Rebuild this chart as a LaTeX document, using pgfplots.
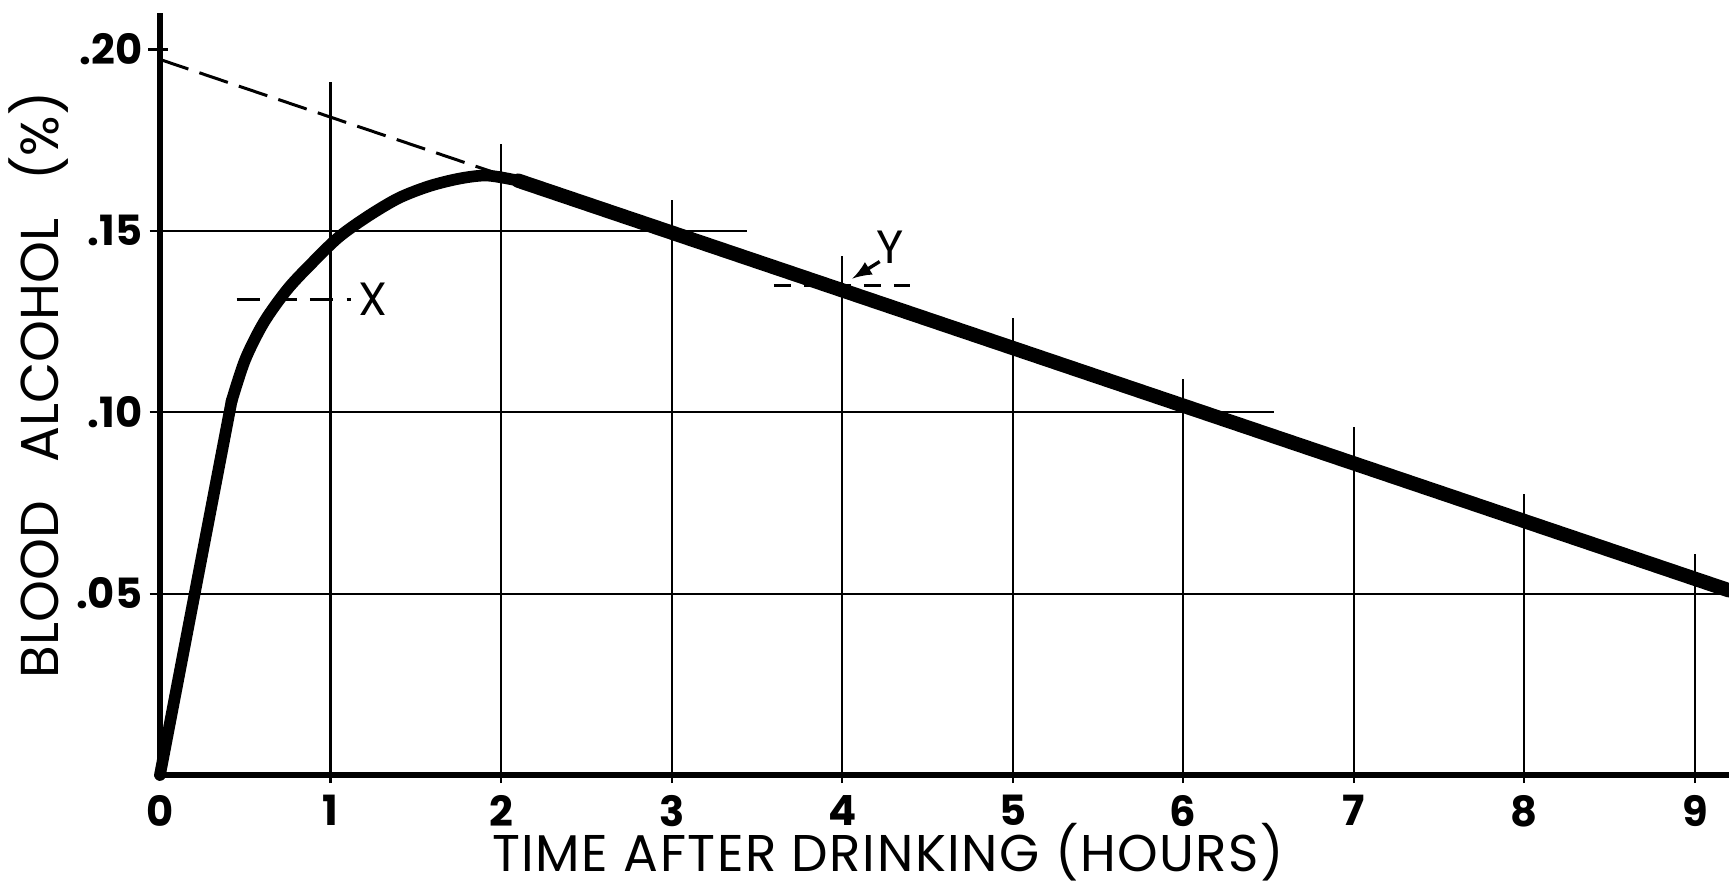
\documentclass[border=0pt]{standalone}
\usepackage{fontspec}
\setmainfont{Poppins}
\usepackage{pgfplots}
\pgfplotsset{compat=1.18}
\usetikzlibrary{calc}
\begin{document}
\begin{tikzpicture}
\begin{axis}[
  scale only axis, width=470.9pt, height=228.7pt,
  xmin=0, xmax=9.2, ymin=0, ymax=0.21,
  clip=false,
  axis x line=bottom, axis y line=left,
  axis line style={-, line width=2pt},
  xtick={0,1,2,3,4,5,6,7,8,9}, xticklabels={0,1,2,3,4,5,6,7,8,9},
  ytick={0.05,0.10,0.15,0.20}, yticklabels={.05,.10,.15,.20},
  major tick length=0pt,
  tick style={draw=none},
  xticklabel style={font=\fontsize{12.5}{13}\selectfont\bfseries, yshift=-2.6pt},
  yticklabel style={font=\fontsize{12.5}{13}\selectfont\bfseries, xshift=-1.8pt},
]
% grid segments
\addplot[line width=0.65pt] coordinates {(1,-0.0022) (1,0.191)};
\addplot[line width=0.65pt] coordinates {(2,-0.0022) (2,0.174)};
\addplot[line width=0.65pt] coordinates {(3,-0.0022) (3,0.1585)};
\addplot[line width=0.65pt] coordinates {(4,-0.0022) (4,0.143)};
\addplot[line width=0.65pt] coordinates {(5,-0.0022) (5,0.126)};
\addplot[line width=0.65pt] coordinates {(6,-0.0022) (6,0.109)};
\addplot[line width=0.65pt] coordinates {(7,-0.0022) (7,0.096)};
\addplot[line width=0.65pt] coordinates {(8,-0.0022) (8,0.0775)};
\addplot[line width=0.65pt] coordinates {(9,-0.0022) (9,0.061)};
\addplot[line width=0.65pt] coordinates {(-0.06,0.05) (9.2,0.05)};
\addplot[line width=0.65pt] coordinates {(-0.06,0.10) (6.53,0.10)};
\addplot[line width=0.65pt] coordinates {(-0.06,0.15) (3.44,0.15)};
\addplot[line width=0.9pt] coordinates {(-0.07,0.20) (0.05,0.20)};
% y axis extends to top
\addplot[line width=2pt] coordinates {(0,0) (0,0.21)};
% dashed extrapolation
\addplot[line width=0.9pt, dash pattern=on 9pt off 3.5pt] coordinates {(0,0.1972) (1.95,0.1662)};
% main curve
\addplot[line width=3.5pt, line cap=round, line join=round] coordinates {(0,0) (0.42,0.103)};
\addplot[line width=3.5pt, line cap=round, line join=round, smooth] coordinates {
 (0.42,0.103) (0.50,0.1145) (0.61,0.1248) (0.75,0.1340) (0.90,0.1415)
 (1.05,0.1483) (1.22,0.1540) (1.40,0.1590) (1.58,0.1623) (1.76,0.1644) (1.92,0.1652) (2.1,0.1638)};
\addplot[line width=4.3pt, line cap=round] coordinates {(2.1,0.1638) (9.2,0.0509)};
% X marker
\addplot[line width=0.9pt, dash pattern=on 7pt off 4pt] coordinates {(0.45,0.131) (1.12,0.131)};
\node[font=\fontsize{14}{16}\selectfont] at (axis cs:1.25,0.131) {X};
% Y marker
\addplot[line width=0.9pt, dash pattern=on 5pt off 4pt] coordinates {(3.6,0.135) (4.4,0.135)};
\node[font=\fontsize{14}{16}\selectfont] at (axis cs:4.28,0.1455) {Y};
\draw[line width=1pt, -latex] (axis cs:4.22,0.1415) -- (axis cs:4.06,0.1368);
% labels
\node[anchor=base, font=\fontsize{15.5}{18}\selectfont\addfontfeature{LetterSpace=3}] at ($(axis cs:4.2,0)+(0,-31.2pt)$) {TIME AFTER DRINKING (HOURS)};
\node[anchor=base, rotate=90, font=\fontsize{16}{18}\selectfont] at ($(axis cs:0,0.1053)+(-33.9pt,0)$) {BLOOD\hspace{0.45em} ALCOHOL\hspace{0.45em} (\%)};
\end{axis}
\pgfresetboundingbox
\path[use as bounding box] ($(current axis.south west)+(-48pt,-33.9pt)$) rectangle ($(current axis.north east)+(0pt,3.9pt)$);
\end{tikzpicture}
\end{document}
